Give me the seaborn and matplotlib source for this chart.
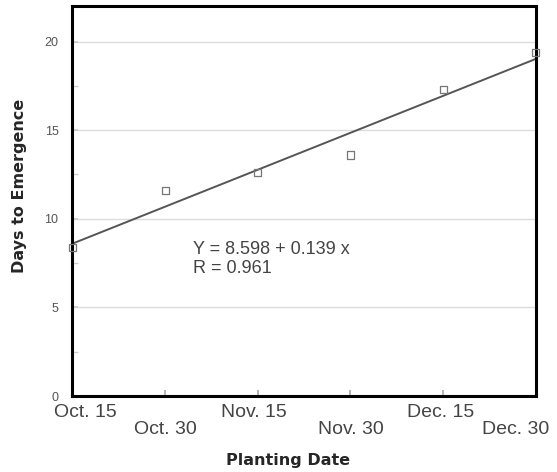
import numpy as np
import pandas as pd
import matplotlib.pyplot as plt
import matplotlib.transforms as mtransforms
import seaborn as sns

# ---------------------------------------------------------------
# DATA
# ---------------------------------------------------------------
DATE_LABELS = ["Oct. 15", "Oct. 30", "Nov. 15", "Nov. 30", "Dec. 15", "Dec. 30"]
DAYS_AFTER = [0, 15, 30, 45, 60, 75]          # days after Oct. 15
EMERGENCE = [8.4, 11.6, 12.6, 13.6, 17.3, 19.4]
INTERCEPT = 8.598
SLOPE = 0.139
R_VALUE = 0.961

df = pd.DataFrame({"x": DAYS_AFTER, "y": EMERGENCE})
fit = pd.DataFrame({"x": [DAYS_AFTER[0], DAYS_AFTER[-1]]})
fit["y"] = INTERCEPT + SLOPE * fit["x"]

sns.set_theme(style="white")
plt.rcParams["font.family"] = ["Liberation Sans", "DejaVu Sans"]

fig, ax = plt.subplots(figsize=(5.57, 4.72), dpi=100)
fig.subplots_adjust(left=0.13, right=0.962, top=0.987, bottom=0.161)

for yv in [5, 10, 15, 20]:
    ax.axhline(yv, color="#dcdcdc", lw=1.0, zorder=0)

sns.lineplot(data=fit, x="x", y="y", ax=ax, color="#555555", lw=1.4)
sns.scatterplot(data=df, x="x", y="y", ax=ax, marker="s", s=26,
                facecolor="none", edgecolor="#777777", linewidth=0.9, zorder=3,
                clip_on=False)

ax.set_xlim(0, 75)
ax.set_ylim(0, 22)
ax.set_yticks([0, 5, 10, 15, 20])
ax.set_yticks([2.5, 7.5, 12.5, 17.5], minor=True)
ax.set_xticks(DAYS_AFTER)
ax.set_xticklabels(DATE_LABELS)
ax.tick_params(axis="y", which="both", direction="in", length=4, color="#cccccc",
               labelsize=9, labelcolor="#555555", pad=10, left=True)
ax.tick_params(axis="x", direction="in", length=4, color="#aaaaaa",
               labelsize=14, labelcolor="#444444", pad=6, bottom=True)

# staggered date labels, nudged sideways like the original
shifts = [13, 0, -4, 0, -3, -20]
for i, lab in enumerate(ax.get_xticklabels()):
    dy = -17 if i % 2 == 1 else 0
    lab.set_transform(lab.get_transform() +
                      mtransforms.ScaledTranslation(shifts[i] / 100, dy / 100, fig.dpi_scale_trans))

for s in ax.spines.values():
    s.set_color("black")
    s.set_linewidth(2.2)

ax.set_xlabel("Planting Date", fontsize=11.5, fontweight="bold", family="DejaVu Sans")
ax.set_ylabel("Days to Emergence", fontsize=11.5, fontweight="bold", family="DejaVu Sans")
ax.xaxis.set_label_coords(0.466, -0.145)
ax.yaxis.set_label_coords(-0.098, 0.54)

ax.text(19.5, 8.25, f"Y = {INTERCEPT} + {SLOPE} x", fontsize=13, color="#444444", va="center")
ax.text(19.5, 7.2, f"R = {R_VALUE}", fontsize=13, color="#444444", va="center")

fig.savefig("out.png", dpi=100)
